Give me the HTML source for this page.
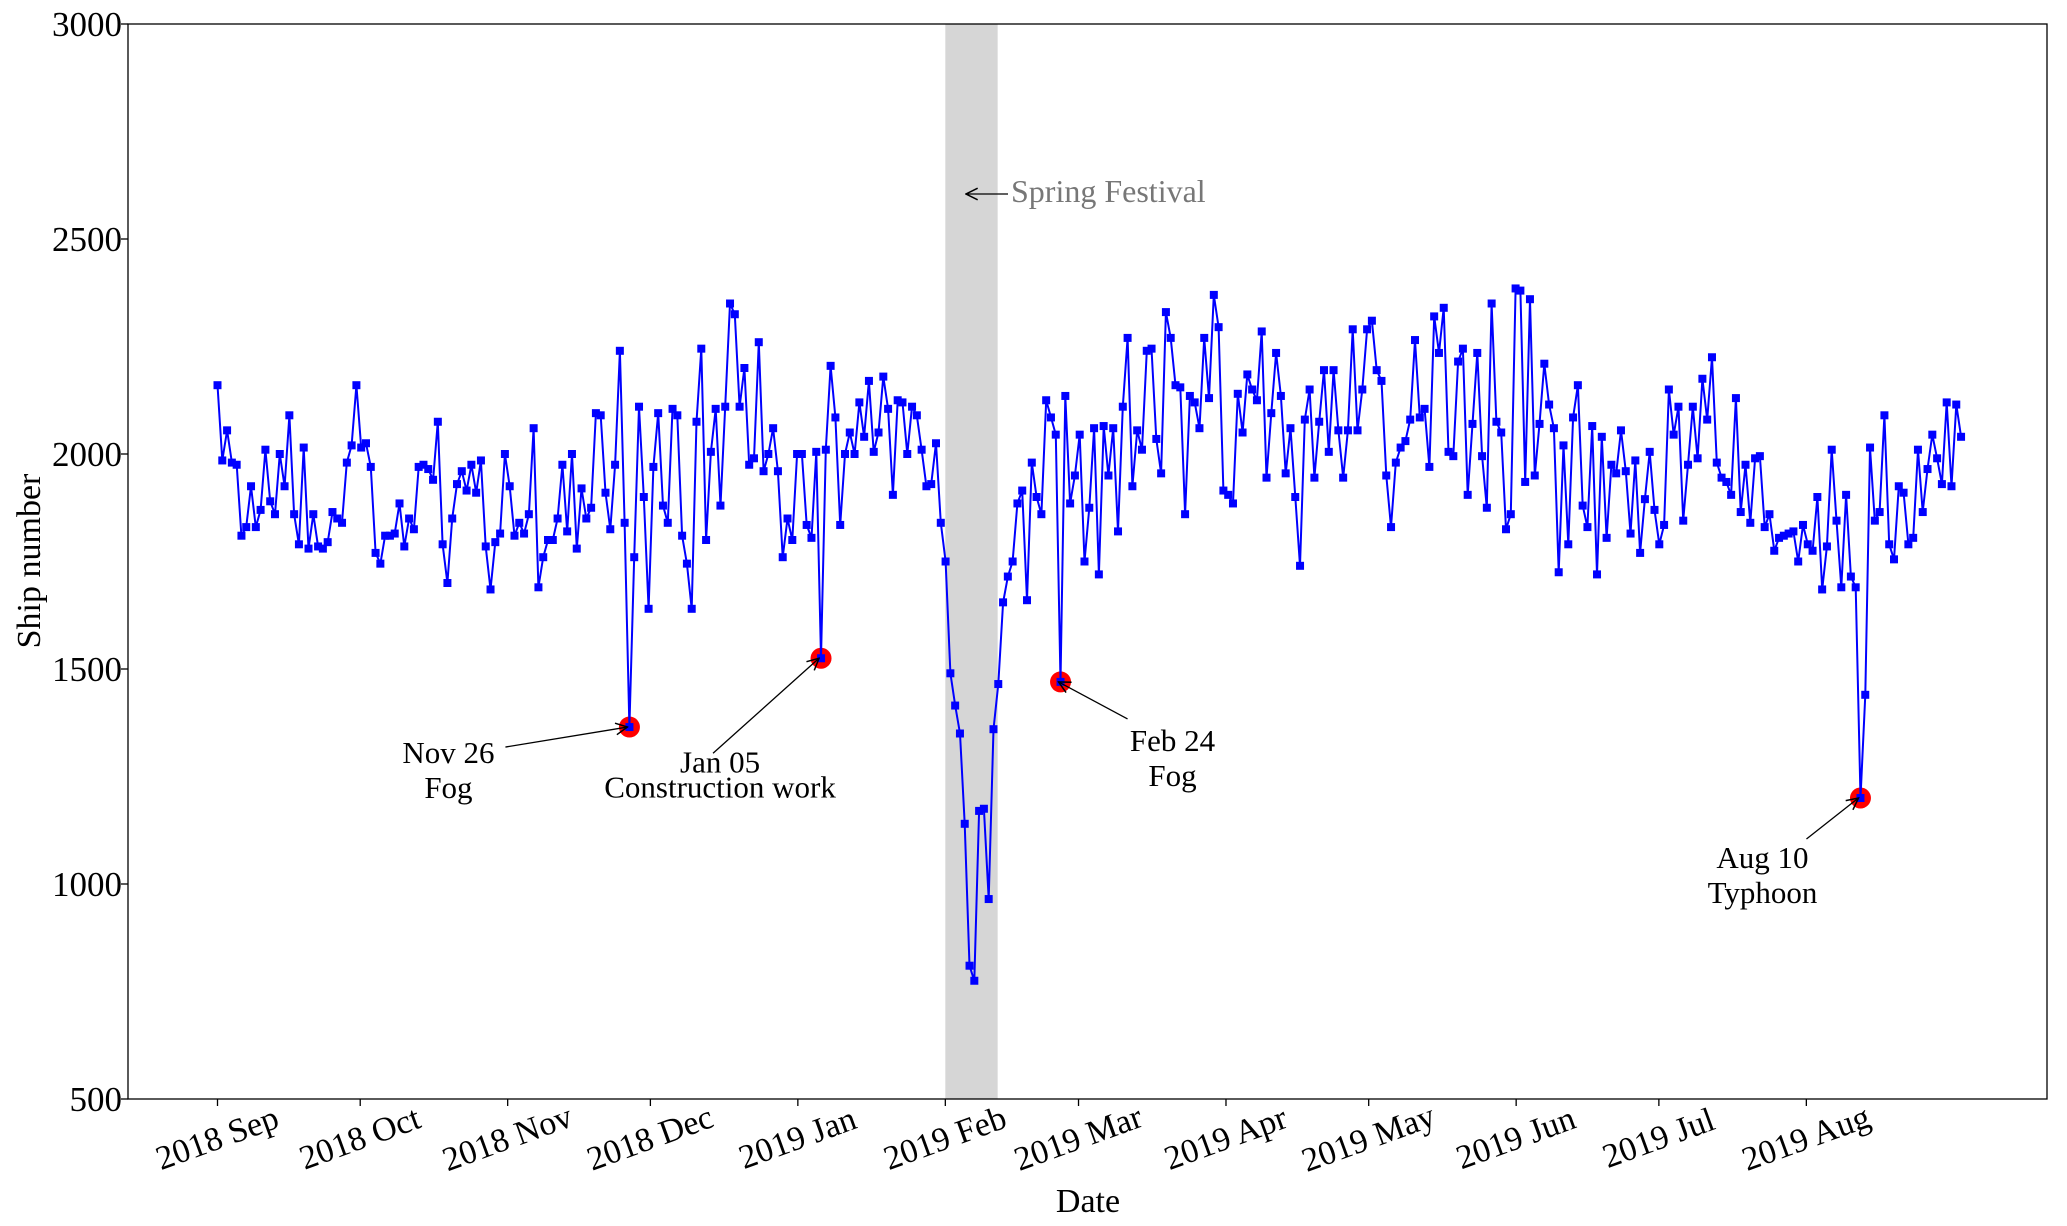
<!DOCTYPE html>
<html><head><meta charset="utf-8"><style>
html,body{margin:0;padding:0;background:#fff}
svg{display:block;font-family:"Liberation Serif",serif}
</style></head><body>
<svg id="chart" width="2067" height="1226" viewBox="0 0 2067 1226"></svg>
<script>
const monthLabels=["2018 Sep","2018 Oct","2018 Nov","2018 Dec","2019 Jan","2019 Feb","2019 Mar","2019 Apr","2019 May","2019 Jun","2019 Jul","2019 Aug"];
const monthStartDays=[0,30,61,91,122,153,181,212,242,273,303,334];
const yTicks=[500,1000,1500,2000,2500,3000];
const sep=[2160,1985,2055,1980,1975,1810,1830,1925,1830,1870,2010,1890,1860,2000,1925,2090,1860,1790,2015,1780,1860,1785,1780,1795,1865,1850,1840,1980,2020,2160];
const oct=[2015,2025,1970,1770,1745,1810,1810,1815,1885,1785,1850,1825,1970,1975,1965,1940,2075,1790,1700,1850,1930,1960,1915,1975,1910,1985,1785,1685,1795,1815,2000];
const nov=[1925,1810,1840,1815,1860,2060,1690,1760,1800,1800,1850,1975,1820,2000,1780,1920,1850,1875,2095,2090,1910,1825,1975,2240,1840,1365,1760,2110,1900,1640];
const dec=[1970,2095,1880,1840,2105,2090,1810,1745,1640,2075,2245,1800,2005,2105,1880,2110,2350,2325,2110,2200,1975,1990,2260,1960,2000,2060,1960,1760,1850,1800,2000];
const jan=[2000,1835,1805,2005,1525,2010,2205,2085,1835,2000,2050,2000,2120,2040,2170,2005,2050,2180,2105,1905,2125,2120,2000,2110,2090,2010,1925,1930,2025,1840,1750];
const feb=[1490,1415,1350,1140,810,775,1170,1175,965,1360,1465,1655,1715,1750,1885,1915,1660,1980,1900,1860,2125,2085,2045,1470,2135,1885,1950,2045];
const mar=[1750,1875,2060,1720,2065,1950,2060,1820,2110,2270,1925,2055,2010,2240,2245,2035,1955,2330,2270,2160,2155,1860,2135,2120,2060,2270,2130,2370,2295,1915,1905];
const apr=[1885,2140,2050,2185,2150,2125,2285,1945,2095,2235,2135,1955,2060,1900,1740,2080,2150,1945,2075,2195,2005,2195,2055,1945,2055,2290,2055,2150,2290,2310];
const may=[2195,2170,1950,1830,1980,2015,2030,2080,2265,2085,2105,1970,2320,2235,2340,2005,1995,2215,2245,1905,2070,2235,1995,1875,2350,2075,2050,1825,1860,2385,2380];
const jun=[1935,2360,1950,2070,2210,2115,2060,1725,2020,1790,2085,2160,1880,1830,2065,1720,2040,1805,1975,1955,2055,1960,1815,1985,1770,1895,2005,1870,1790,1835];
const jul=[2150,2045,2110,1845,1975,2110,1990,2175,2080,2225,1980,1945,1935,1905,2130,1865,1975,1840,1990,1995,1830,1860,1775,1805,1810,1815,1820,1750,1835,1790,1775];
const aug=[1900,1685,1785,2010,1845,1690,1905,1715,1690,1200,1440,2015,1845,1865,2090,1790,1755,1925,1910,1790,1805,2010,1865,1965,2045,1990,1930,2120,1925,2115,2040];
const eventDays=[86,126,176,343];
const eventLabels=[["Nov 26","Fog"],["Jan 05","Construction work"],["Feb 24","Fog"],["Aug 10","Typhoon"]];
const festivalStart=153, festivalEnd=164;

const values=[].concat(sep,oct,nov,dec,jan,feb,mar,apr,may,jun,jul,aug);
const L=128,R=2047,T=24,B=1099;
const xTick=d=>217.5+d*4.757;
const xOf=i=>217.5+i*4.79;
const yOf=v=>T+(3000-v)*(B-T)/2500;
const NS="http://www.w3.org/2000/svg";
const svg=document.getElementById('chart');
function mk(tag,attrs,parent){const e=document.createElementNS(NS,tag);for(const k in attrs)e.setAttribute(k,attrs[k]);(parent||svg).appendChild(e);return e;}

const defs=mk('defs',{});
const mrk=mk('marker',{id:'arr',viewBox:'0 0 12 12',refX:'11',refY:'6',markerWidth:'14',markerHeight:'14',orient:'auto',markerUnits:'userSpaceOnUse'},defs);
mk('path',{d:'M1,1 L11,6 L1,11',fill:'none',stroke:'#000','stroke-width':'1.3'},mrk);

const shade=mk('rect',{x:xTick(festivalStart),y:T,width:xTick(festivalEnd)-xTick(festivalStart),height:B-T,fill:'#d6d6d6'});



const frame=mk('rect',{x:L,y:T,width:R-L,height:B-T,fill:'none',stroke:'#000','stroke-width':'1.3'});



yTicks.forEach(v=>{
  const y=yOf(v);
  const t=mk('line',{x1:L-7,x2:L,y1:y,y2:y,stroke:'#000','stroke-width':'1.3'});
  
  
  const tx=mk('text',{x:L-6,y:y+12,'text-anchor':'end','font-size':'35'});
  tx.textContent=v;
  
  
});
monthStartDays.forEach((d,i)=>{
  const x=xTick(d);
  const t=mk('line',{x1:x,x2:x,y1:B,y2:B+7,stroke:'#000','stroke-width':'1.3'});
  
  
  const tx=mk('text',{x:x,y:B+50,'text-anchor':'middle','font-size':'34',transform:`rotate(-20 ${x} ${B+40})`});
  tx.textContent=monthLabels[i];
  
  
});
const xl=mk('text',{x:1088,y:1212,'text-anchor':'middle','font-size':'34'});xl.textContent='Date';


const yl=mk('text',{x:40,y:561,'text-anchor':'middle','font-size':'34',transform:'rotate(-90 40 561)'});yl.textContent='Ship number';



eventDays.forEach(d=>{
  const c=mk('circle',{cx:xOf(d),cy:yOf(values[d]),r:10.5,fill:'#ff0000'});
  
  
});
const pts=values.map((v,i)=>xOf(i).toFixed(1)+','+yOf(v).toFixed(1)).join(' ');
const line=mk('polyline',{points:pts,fill:'none',stroke:'#0000ff','stroke-width':'2'});


values.forEach((v,i)=>{
  const m=mk('rect',{x:xOf(i)-4,y:yOf(v)-4,width:8,height:8,fill:'#0000ff'});
  
  
});

// annotation layout offsets: [textDx, baseline1Dy, baseline2Dy, arrowStartDx, arrowStartDy]
const annOffsets=[[-181,36,71,-124,20],[-101,114,139,-108,95],[112,69,104,67,37],[-98,70,105,-54,41]];
eventDays.forEach((d,i)=>{
  const px=xOf(d),py=yOf(values[d]);
  const o=annOffsets[i];
  const a=mk('line',{x1:px+o[3],y1:py+o[4],x2:px-2,y2:py,stroke:'#000','stroke-width':'1.3','marker-end':'url(#arr)'});
  
  
  const t1=mk('text',{x:px+o[0],y:py+o[1],'text-anchor':'middle','font-size':'31'});t1.textContent=eventLabels[i][0];
  
  
  const t2=mk('text',{x:px+o[0],y:py+o[2],'text-anchor':'middle','font-size':'31'});t2.textContent=eventLabels[i][1];
  
  
});
const fa=mk('line',{x1:1008,y1:194,x2:966,y2:194,stroke:'#000','stroke-width':'1.3','marker-end':'url(#arr)'});


const ft=mk('text',{x:1011,y:202,'font-size':'32',fill:'#777'});ft.textContent='Spring Festival';


</script>
</body></html>
